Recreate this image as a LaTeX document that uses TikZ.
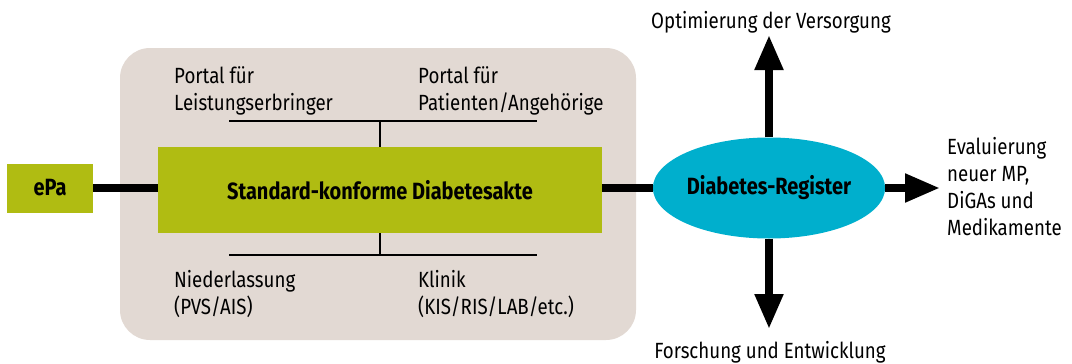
\documentclass[tikz,border=0pt]{standalone}
\usepackage{fontspec}
\setmainfont{Fira Sans}[FakeStretch=0.85]
\usetikzlibrary{arrows.meta,shapes.geometric}
\definecolor{boxbg}{HTML}{E2D9D3}
\definecolor{akte}{HTML}{B0BC12}
\definecolor{register}{HTML}{00AFCD}
\tikzset{
  txt/.style={align=left,font=\fontsize{22}{27}\selectfont,inner sep=0pt},
  head/.style={font=\fontsize{23.5}{27}\bfseries\selectfont},
  fat/.style={line width=8pt},
  bigtip/.style={-{Triangle[length=35pt,width=27pt]}},
}
\begin{document}
\begin{tikzpicture}[x=1pt,y=-1pt]
\useasboundingbox (0,0) rectangle (1072,364);

\fill[boxbg,rounded corners=30pt] (120,48) rectangle (636,340);

\node[fill=akte,minimum width=86pt,minimum height=49pt,inner sep=0pt,head] at (50,188) (epa) {ePa};
\node[fill=akte,minimum width=444pt,minimum height=86pt,inner sep=0pt,head] at (380,190) (akte) {Standard-konforme Diabetesakte};
\node[ellipse,fill=register,minimum width=230pt,minimum height=101pt,inner sep=0pt,head] at (769,188) (reg) {Diabetes-Register};

\draw[fat] (epa.east) -- (akte.west|-epa.east);
\draw[fat] (akte.east|-reg.west) -- (reg.west);

\coordinate (top) at (769,35);
\coordinate (bot) at (769,329);
\coordinate (rgt) at (940,188);
\draw[fat,bigtip] (reg.north) -- (top);
\draw[fat,bigtip] (reg.south) -- (bot);
\draw[fat,bigtip] (reg.east) -- (rgt);

% Portale und Quellen
\coordinate (tl) at (229,121);
\coordinate (tr) at (537,121);
\coordinate (bl) at (229,255);
\coordinate (br) at (537,255);
\draw[line width=1.5pt] (tl) -- (tr);
\draw[line width=1.5pt] (bl) -- (br);
\draw[line width=1.5pt] (akte.north) -- (akte.north|-tl);
\draw[line width=1.5pt] (akte.south) -- (akte.south|-bl);

\node[txt,anchor=north west] at (174,66) (leist) {Portal für\\Leistungserbringer};
\node[txt,anchor=north west] at (418,66) (pat) {Portal für\\Patienten/Angehörige};
\node[txt,anchor=north west] at (174,270) (nied) {Niederlassung\\(PVS/AIS)};
\node[txt,anchor=north west] at (418,270) (klin) {Klinik\\(KIS/RIS/LAB/etc.)};

\node[txt] at (771,22) (opt) {Optimierung der Versorgung};
\node[txt] at (770,352) (fue) {Forschung und Entwicklung};
\node[txt,anchor=west] at (947,187) (eval) {Evaluierung\\neuer MP,\\DiGAs und\\Medikamente};

\end{tikzpicture}
\end{document}
